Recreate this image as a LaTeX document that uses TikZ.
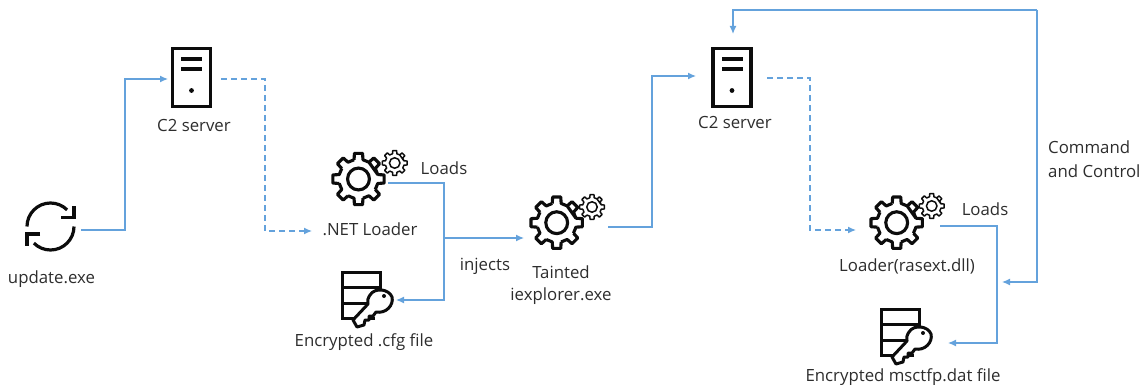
\documentclass[tikz,border=0pt]{standalone}
\usepackage{fontspec}
\setmainfont{Open Sans}
\usetikzlibrary{arrows.meta}
\definecolor{wire}{RGB}{100,162,220}
\definecolor{ink}{RGB}{12,12,12}
\definecolor{label}{RGB}{45,45,45}
\tikzset{
  wireline/.style={draw=wire,line width=1.3pt,-{Latex[length=8pt,width=7pt]}},
  plainwire/.style={draw=wire,line width=1.3pt},
  dashwire/.style={wireline,dash pattern=on 6pt off 4pt},
  lbl/.style={font=\fontsize{16.8}{20}\selectfont,text=label,inner sep=0pt,align=center},
  anchorbox/.style={inner sep=0pt,minimum width=#1,minimum height=#1},
  pics/servericon/.style={code={
    \draw[ink,line width=3.8pt,miter limit=10] (-19,-29) rectangle (19,29);
    \fill[ink] (-10.5,-20) rectangle (10.5,-16);
    \fill[ink] (-10.5,-10) rectangle (10.5,-6);
    \fill[ink] (0,13) circle (2.4);
  }},
  pics/gearicon/.style={code={
    \draw[ink,line width=#1*0.12pt,line join=round]
      \foreach \a in {0,45,...,315}{
        ({\a-13}:#1*0.76) -- ({\a-9}:#1) -- ({\a+9}:#1) -- ({\a+13}:#1*0.76) -- ({\a+32}:#1*0.76)
      } -- cycle;
    \draw[ink,line width=#1*0.12pt] (0,0) circle (#1*0.42);
  }},
  pics/keydb/.style={code={
    \draw[ink,line width=3pt,line join=miter]
      (14,19) -- (-19,19) -- (-19,-27) -- (19,-27) -- (19,-7);
    \draw[ink,line width=3pt] (-19,-12) -- (19,-12) (-19,4) -- (9,4);
    \draw[ink,line width=3pt,fill=white,line join=round]
      (9,-4) .. controls (14,-12) and (28,-10) .. (31,-2)
      .. controls (33,6) and (25,15) .. (15,13)
      -- (12,17) -- (8,17) -- (8,21) -- (4,21) -- (3,26) -- (-4,28) -- (-8,21) -- (7,5)
      .. controls (6,2) and (7,-1) .. (9,-4) -- cycle;
    \fill[ink] (23,-3) circle (2);
  }},
  pics/syncicon/.style={code={
    \draw[ink,line width=3.2pt]
      (-23.5,0) arc[start angle=180,end angle=315,radius=23.5];
    \draw[ink,line width=3.2pt]
      (23.5,0) arc[start angle=0,end angle=135,radius=23.5];
    \draw[ink,line width=3.2pt,line join=miter] (10.5,-9) -- (23.5,-9) -- (23.5,-21);
    \draw[ink,line width=3.2pt,line join=miter] (-10.5,7.5) -- (-23.5,7.5) -- (-23.5,19.5);
  }}
}
\begin{document}
\begin{tikzpicture}[x=1pt,y=-1pt]
\useasboundingbox (0,0) rectangle (1142,385);
% icons (invisible anchors)
\node[anchorbox=60pt] (upd) at (50.5,226.5) {}; \pic at (50.5,226.5) {syncicon};
\node[anchorbox=40pt] (srvA) at (191.5,77.5) {}; \pic at (191.5,77.5) {servericon};
\node[anchorbox=40pt] (srvB) at (732,77.5) {}; \pic at (732,77.5) {servericon};
\node[anchorbox=40pt] (gearA) at (358.5,179) {}; \pic at (358.5,179) {gearicon=26}; \pic at (394.7,163) {gearicon=12.5};
\node[anchorbox=40pt] (gearB) at (556.7,222.7) {}; \pic at (556.7,222.7) {gearicon=26}; \pic at (592,207) {gearicon=12.5};
\node[anchorbox=40pt] (gearC) at (896.7,222.7) {}; \pic at (896.7,222.7) {gearicon=26}; \pic at (931.7,206) {gearicon=12.5};
\node[anchorbox=40pt] (dbA) at (361,299) {}; \pic at (361,299) {keydb};
\node[anchorbox=40pt] (dbB) at (900,336) {}; \pic at (900,336) {keydb};
% labels
\node[lbl] (t1) at (51.5,279) {update.exe};
\node[lbl] (t2) at (194,125) {C2 server};
\node[lbl] (t3) at (370,229) {.NET Loader};
\node[lbl] (t4) at (444,168) {Loads};
\node[lbl] (t5) at (485,266) {injects};
\node[lbl] (t6) at (364,342) {Encrypted .cfg file};
\node[lbl] (t7) at (561,272) {Tainted};
\node[lbl] (t8) at (561,296) {iexplorer.exe};
\node[lbl] (t9) at (735,122) {C2 server};
\node[lbl] (t10) at (907,266) {Loader(rasext.dll)};
\node[lbl] (t11) at (985,209) {Loads};
\node[lbl] (t12) at (903,377) {Encrypted msctfp.dat file};
\node[lbl,anchor=west] (t13) at (1048,147) {Command};
\node[lbl,anchor=west] (t14) at (1048,171) {and Control};
% connector waypoints
\coordinate (a1) at (81,230);\coordinate (a2) at (125,230);\coordinate (a3) at (125,79);\coordinate (a4) at (168,79);
\coordinate (b1) at (221,79);\coordinate (b2) at (265,79);\coordinate (b3) at (265,231);\coordinate (b4) at (312,231);
\coordinate (c1) at (388,183);\coordinate (c2) at (444,183);\coordinate (c3) at (444,300);\coordinate (c4) at (396,300);
\coordinate (d1) at (444,238);\coordinate (d2) at (524,238);
\coordinate (e1) at (608,227);\coordinate (e2) at (652,227);\coordinate (e3) at (652,76);\coordinate (e4) at (696,76);
\coordinate (f1) at (767,78);\coordinate (f2) at (810,78);\coordinate (f3) at (810,230);\coordinate (f4) at (856,230);
\coordinate (g1) at (940,226);\coordinate (g2) at (997,226);\coordinate (g3) at (997,343);\coordinate (g4) at (948,343);
\coordinate (h1) at (1037,282);\coordinate (h4) at (1002,282);\coordinate (h2) at (1037,10);\coordinate (h3) at (733,10);\coordinate (h5) at (733,34);
\draw[wireline] (a1)--(a2)--(a3)--(a4);
\draw[dashwire] (b1)--(b2)--(b3)--(b4);
\draw[wireline] (c1)--(c2)--(c3)--(c4);
\draw[wireline] (d1)--(d2);
\draw[wireline] (e1)--(e2)--(e3)--(e4);
\draw[dashwire] (f1)--(f2)--(f3)--(f4);
\draw[wireline] (g1)--(g2)--(g3)--(g4);
\draw[wireline] (h2)--(h3)--(h5);
\draw[wireline] (h2)--(h1)--(h4);
\end{tikzpicture}
\end{document}
